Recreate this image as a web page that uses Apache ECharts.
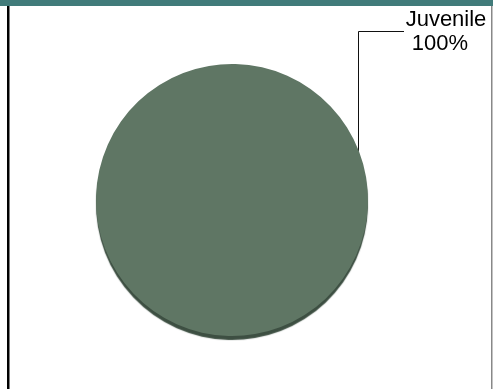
<!DOCTYPE html>
<html>
<head>
<meta charset="utf-8">
<script src="https://cdn.jsdelivr.net/npm/echarts@6/dist/echarts.min.js"></script>
<style>
html,body{margin:0;padding:0;background:#fff;}
#c{width:493px;height:389px;}
</style>
</head>
<body>
<div id="c"></div>
<script>
const categories = ["Juvenile"];
const values = [100];
const colors = ["#5F7664"];

const chart = echarts.init(document.getElementById('c'), null, {renderer: 'canvas'});
const data = categories.map((c, i) => ({name: c, value: values[i], itemStyle: {color: colors[i]}}));

chart.setOption({
  animation: false,
  backgroundColor: '#ffffff',
  graphic: [
    {type: 'rect', shape: {x: 0, y: 0, width: 493, height: 6}, style: {fill: '#417B7A'}},
    {type: 'rect', shape: {x: 7, y: 6, width: 2.5, height: 383}, style: {fill: '#000'}},
    {type: 'rect', shape: {x: 491, y: 6, width: 1.5, height: 383}, style: {fill: '#888'}}
  ],
  series: [{
    type: 'pie',
    center: [232, 200],
    radius: 136,
    startAngle: 201,
    avoidLabelOverlap: false,
    itemStyle: {
      shadowColor: 'rgba(40,60,45,0.9)',
      shadowOffsetY: 4,
      shadowOffsetX: 0,
      shadowBlur: 1,
      borderWidth: 0
    },
    label: {
      show: true,
      position: 'outside',
      formatter: '{b}\n{d}%  ',
      fontFamily: 'Liberation Sans, Arial, sans-serif',
      fontSize: 22,
      lineHeight: 24,
      color: '#000'
    },
    labelLine: {
      show: true,
      lineStyle: {color: '#111', width: 1}
    },
    labelLayout: function (params) {
      const p = params.labelLinePoints;
      const out = {x: 446, y: 8, align: 'center', verticalAlign: 'top'};
      if (p && p.length) {
        const lx = Math.round(p[0][0] - 1) + 0.5;
        out.labelLinePoints = [[lx, p[0][1]], [lx, 31.5], [404, 31.5]];
      }
      return out;
    },
    emphasis: {disabled: true},
    data: data
  }]
});
</script>
</body>
</html>
